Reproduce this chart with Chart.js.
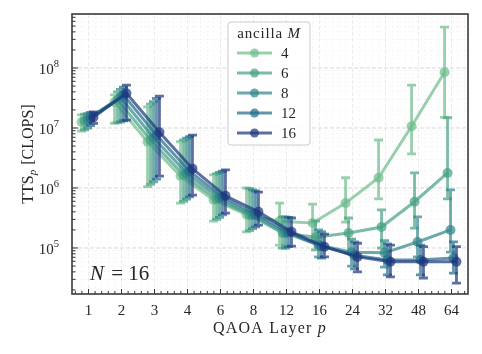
<!DOCTYPE html>
<html>
<head>
<meta charset="utf-8">
<script src="https://cdn.jsdelivr.net/npm/chart.js@4.4.0/dist/chart.umd.min.js"></script>
<style>
  html, body { margin: 0; padding: 0; background: #fff; }
</style>
</head>
<body>
<canvas id="chart" width="482" height="354"></canvas>
<script>
// QAOA layers on the x axis (categorical)
const layers = [1, 2, 3, 4, 6, 8, 12, 16, 24, 32, 48, 64];
const ancilla = [4, 6, 8, 12, 16];

// TTS_p [CLOPS] per ancilla count: median, lower and upper error
const tts4 = [1.26e7, 2.7e7, 5.9e6, 1.58e6, 6.3e5, 3.6e5, 2.8e5, 2.6e5, 5.6e5, 1.48e6, 1.07e7, 8.5e7];
const lo4  = [8.9e6, 1.2e7, 1.05e6, 5.6e5, 2.8e5, 1.86e5, 1.12e5, 1.35e5, 2.7e5, 6.6e5, 3.7e6, 1.5e7];
const hi4  = [1.66e7, 3.55e7, 2.24e7, 5.9e6, 1.66e6, 1.0e6, 5.6e5, 5.4e5, 1.48e6, 6.3e6, 5.2e7, 4.8e8];

const tts6 = [1.32e7, 2.95e7, 6.3e6, 1.66e6, 6.5e5, 3.55e5, 1.78e5, 1.51e5, 1.78e5, 2.24e5, 5.9e5, 1.78e6];
const lo6  = [9.3e6, 1.23e7, 1.15e6, 6.0e5, 3.0e5, 1.95e5, 1.0e5, 9.3e4, 8.3e4, 1.0e5, 2.14e5, 6.6e5];
const hi6  = [1.7e7, 4.0e7, 2.5e7, 6.3e6, 1.74e6, 9.8e5, 3.3e5, 2.8e5, 3.16e5, 4.3e5, 1.78e6, 1.48e7];

const tts8 = [1.38e7, 3.24e7, 6.9e6, 1.78e6, 6.8e5, 3.55e5, 1.78e5, 1.12e5, 8.5e4, 8.3e4, 1.26e5, 2.0e5];
const lo8  = [1.0e7, 1.26e7, 1.26e6, 6.5e5, 3.24e5, 2.1e5, 1.0e5, 7.1e4, 5.0e4, 4.8e4, 7.1e4, 8.5e4];
const hi8  = [1.74e7, 4.4e7, 2.75e7, 6.8e6, 1.82e6, 9.3e5, 3.3e5, 2.0e5, 1.41e5, 1.32e5, 3.3e5, 9.3e5];

const tts12 = [1.45e7, 3.55e7, 7.6e6, 1.9e6, 7.1e5, 3.7e5, 1.82e5, 1.07e5, 7.6e4, 6.3e4, 6.3e4, 6.8e4];
const lo12  = [1.1e7, 1.32e7, 1.41e6, 7.1e5, 3.55e5, 2.24e5, 1.05e5, 6.8e4, 4.5e4, 3.55e4, 3.55e4, 3.8e4];
const hi12  = [1.82e7, 4.8e7, 3.1e7, 7.2e6, 1.9e6, 8.9e5, 3.24e5, 1.86e5, 1.26e5, 1.17e5, 1.12e5, 1.26e5];

const tts16 = [1.51e7, 3.8e7, 8.5e6, 2.1e6, 7.4e5, 4.0e5, 1.86e5, 1.05e5, 7.1e4, 5.9e4, 5.9e4, 5.9e4];
const lo16  = [1.2e7, 1.35e7, 1.58e6, 7.6e5, 3.8e5, 2.4e5, 1.07e5, 7.1e4, 4.0e4, 3.3e4, 3.16e4, 2.6e4];
const hi16  = [1.86e7, 5.2e7, 3.4e7, 7.6e6, 2.0e6, 8.5e5, 3.16e5, 1.7e5, 1.2e5, 1.12e5, 1.05e5, 1.05e5];

const yTicks = [1e5, 1e6, 1e7, 1e8];

const medians = [tts4, tts6, tts8, tts12, tts16];
const lows = [lo4, lo6, lo8, lo12, lo16];
const highs = [hi4, hi6, hi8, hi12, hi16];
const colors = ["rgb(112,190,142)", "rgb(72,162,132)", "rgb(52,136,140)", "rgb(36,108,140)", "rgb(30,56,126)"];
const shifts = [-0.21, -0.12, -0.03, 0.06, 0.15]; // small dodge so bars don't overlap
const ALPHA = 0.72;
const SERIF = '"Liberation Serif", "DejaVu Serif", serif';
const INK = "#262626";

function rgba(c, a) {
    return c.replace("rgb(", "rgba(").replace(")", "," + a + ")");
}

const datasets = ancilla.map((m, s) => ({
    label: String(m),
    data: layers.map((p, i) => ({ x: i + shifts[s], y: medians[s][i], lo: lows[s][i], hi: highs[s][i] })),
    borderColor: rgba(colors[s], ALPHA),
    backgroundColor: rgba(colors[s], ALPHA),
    pointBackgroundColor: rgba(colors[s], ALPHA),
    pointBorderWidth: 0,
    pointRadius: 5,
    borderWidth: 3,
    tension: 0,
    order: ancilla.length - s
}));

// background grid, drawn before the series
const gridPlugin = {
    id: "grid",
    beforeDatasetsDraw(chart) {
        const { ctx, chartArea: a, scales: { x, y } } = chart;
        ctx.save();
        ctx.lineWidth = 0.7;
        // minor grid
        ctx.strokeStyle = "#f1f1f1";
        ctx.setLineDash([2, 2]);
        for (let e = 4; e <= 8; e++) {
            for (let k = 2; k <= 9; k++) {
                const py = y.getPixelForValue(k * Math.pow(10, e));
                if (py < a.top || py > a.bottom) continue;
                ctx.beginPath(); ctx.moveTo(a.left, py); ctx.lineTo(a.right, py); ctx.stroke();
            }
        }
        for (let i = -1; i < layers.length; i++) {
            for (let k = 1; k < 5; k++) {
                const px = x.getPixelForValue(i + k / 5);
                if (px < a.left || px > a.right) continue;
                ctx.beginPath(); ctx.moveTo(px, a.top); ctx.lineTo(px, a.bottom); ctx.stroke();
            }
        }
        // major grid
        ctx.strokeStyle = "#e4e4e4";
        ctx.setLineDash([4, 2]);
        layers.forEach((p, i) => {
            const px = x.getPixelForValue(i);
            ctx.beginPath(); ctx.moveTo(px, a.top); ctx.lineTo(px, a.bottom); ctx.stroke();
        });
        ctx.strokeStyle = "#d4d4d4";
        ctx.lineWidth = 0.9;
        yTicks.forEach(v => {
            const py = y.getPixelForValue(v);
            ctx.beginPath(); ctx.moveTo(a.left, py); ctx.lineTo(a.right, py); ctx.stroke();
        });
        ctx.restore();
    }
};

// error bars for each series, drawn right under its line
const errorBarPlugin = {
    id: "errorBars",
    beforeDatasetDraw(chart, args) {
        const ds = chart.data.datasets[args.index];
        const { ctx, scales: { x, y } } = chart;
        ctx.save();
        ctx.strokeStyle = ds.borderColor;
        ctx.lineWidth = 2.8;
        ds.data.forEach(d => {
            const px = x.getPixelForValue(d.x);
            const yl = y.getPixelForValue(d.lo);
            const yh = y.getPixelForValue(d.hi);
            ctx.beginPath();
            ctx.moveTo(px, yl); ctx.lineTo(px, yh);
            ctx.moveTo(px - 4.5, yl); ctx.lineTo(px + 4.5, yl);
            ctx.moveTo(px - 4.5, yh); ctx.lineTo(px + 4.5, yh);
            ctx.stroke();
        });
        ctx.restore();
    }
};

// frame, ticks, labels, legend and annotation
const decorPlugin = {
    id: "decor",
    afterDraw(chart) {
        const { ctx, chartArea: a, scales: { x, y } } = chart;
        ctx.save();
        ctx.strokeStyle = "#333";
        ctx.fillStyle = INK;
        ctx.lineWidth = 1;

        // y ticks
        for (let e = 4; e <= 8; e++) {
            for (let k = 1; k <= 9; k++) {
                const py = y.getPixelForValue(k * Math.pow(10, e));
                if (py < a.top || py > a.bottom) continue;
                const len = k === 1 ? 6 : 3.5;
                ctx.beginPath(); ctx.moveTo(a.left, py); ctx.lineTo(a.left + len, py); ctx.stroke();
            }
        }
        // x ticks
        for (let i = -1; i < layers.length; i++) {
            for (let k = 0; k < 5; k++) {
                const px = x.getPixelForValue(i + k / 5);
                if (px < a.left || px > a.right) continue;
                const len = k === 0 ? 5 : 3;
                ctx.beginPath(); ctx.moveTo(px, a.bottom); ctx.lineTo(px, a.bottom - len); ctx.stroke();
            }
        }

        // frame
        ctx.lineWidth = 1.6;
        ctx.strokeStyle = "#3a3a3a";
        ctx.strokeRect(a.left, a.top, a.right - a.left, a.bottom - a.top);

        // x tick labels
        ctx.font = "15px " + SERIF;
        ctx.textAlign = "center";
        ctx.textBaseline = "middle";
        layers.forEach((p, i) => ctx.fillText(String(p), x.getPixelForValue(i), a.bottom + 17));

        // y tick labels: 10^e
        yTicks.forEach(v => {
            const py = y.getPixelForValue(v);
            const exp = String(Math.round(Math.log10(v)));
            ctx.font = "10.5px " + SERIF;
            const we = ctx.measureText(exp).width;
            ctx.textAlign = "right";
            ctx.fillText(exp, a.left - 13, py - 4);
            ctx.font = "15px " + SERIF;
            ctx.fillText("10", a.left - 13 - we, py + 2);
        });

        // axis titles
        ctx.letterSpacing = "1.2px";
        ctx.font = "16px " + SERIF;
        const xt1 = "QAOA Layer ";
        const w1 = ctx.measureText(xt1).width;
        ctx.font = "italic 16px " + SERIF;
        const w2 = ctx.measureText("p").width;
        const cx = (a.left + a.right) / 2;
        ctx.textAlign = "left";
        ctx.font = "16px " + SERIF;
        ctx.fillText(xt1, cx - (w1 + w2) / 2, 329);
        ctx.font = "italic 16px " + SERIF;
        ctx.fillText("p", cx - (w1 + w2) / 2 + w1, 329);
        ctx.letterSpacing = "0px";

        ctx.save();
        ctx.translate(29, (a.top + a.bottom) / 2);
        ctx.rotate(-Math.PI / 2);
        ctx.font = "16px " + SERIF;
        const ya = ctx.measureText("TTS").width;
        ctx.font = "italic 11px " + SERIF;
        const yb = ctx.measureText("p").width + 1;
        ctx.font = "16px " + SERIF;
        const yc = ctx.measureText(" [CLOPS]").width;
        let sx = -(ya + yb + yc) / 2;
        ctx.textAlign = "left";
        ctx.fillText("TTS", sx, 0);
        ctx.font = "italic 11px " + SERIF;
        ctx.fillText("p", sx + ya, 4);
        ctx.font = "16px " + SERIF;
        ctx.fillText(" [CLOPS]", sx + ya + yb, 0);
        ctx.restore();

        // annotation N = 16
        ctx.textBaseline = "alphabetic";
        ctx.font = "italic 21px " + SERIF;
        ctx.fillText("N", 90, 280);
        const nw = ctx.measureText("N").width;
        ctx.font = "21px " + SERIF;
        ctx.fillText(" = 16", 90 + nw + 2, 280);

        // legend
        const L = { x: 228, y: 22, w: 82, h: 123 };
        ctx.fillStyle = "rgba(255,255,255,0.85)";
        ctx.strokeStyle = "#cccccc";
        ctx.lineWidth = 1;
        ctx.beginPath();
        ctx.roundRect(L.x, L.y, L.w, L.h, 3);
        ctx.fill();
        ctx.stroke();

        ctx.fillStyle = INK;
        ctx.textBaseline = "middle";
        ctx.letterSpacing = "0.8px";
        ctx.font = "15px " + SERIF;
        const t1 = "ancilla ";
        const tw1 = ctx.measureText(t1).width;
        ctx.font = "italic 15px " + SERIF;
        const tw2 = ctx.measureText("M").width;
        const tx = L.x + L.w / 2 - (tw1 + tw2) / 2;
        ctx.font = "15px " + SERIF;
        ctx.fillText(t1, tx, 34);
        ctx.font = "italic 15px " + SERIF;
        ctx.fillText("M", tx + tw1, 34);
        ctx.letterSpacing = "0px";

        ctx.font = "15px " + SERIF;
        ancilla.forEach((m, s) => {
            const ly = 53 + s * 20;
            const c = rgba(colors[s], ALPHA);
            ctx.strokeStyle = c;
            ctx.fillStyle = c;
            ctx.lineWidth = 3;
            ctx.beginPath(); ctx.moveTo(237, ly); ctx.lineTo(272, ly); ctx.stroke();
            ctx.beginPath(); ctx.arc(254.5, ly, 4.5, 0, Math.PI * 2); ctx.fill();
            ctx.fillStyle = INK;
            ctx.fillText(String(m), 281, ly + 1);
        });
        ctx.restore();
    }
};

new Chart(document.getElementById("chart"), {
    type: "line",
    data: { datasets: datasets },
    options: {
        responsive: false,
        animation: false,
        layout: { padding: { left: 72, right: 14, top: 14, bottom: 60 } },
        scales: {
            x: { type: "linear", min: -0.5, max: 11.5, display: false },
            y: { type: "logarithmic", min: 1.71e4, max: 7.94e8, display: false }
        },
        plugins: {
            legend: { display: false },
            tooltip: { enabled: false }
        }
    },
    plugins: [gridPlugin, errorBarPlugin, decorPlugin]
});
</script>
</body>
</html>
